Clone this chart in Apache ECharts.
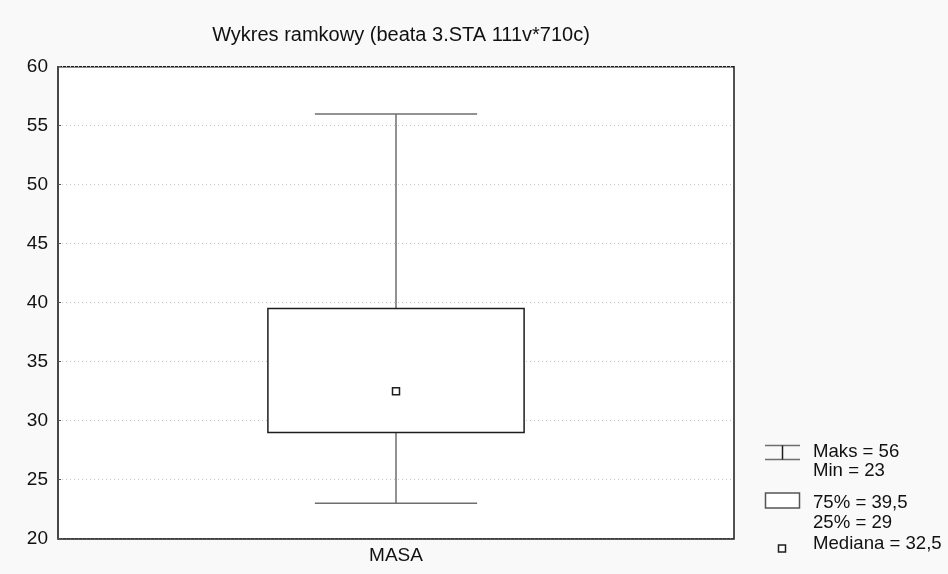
<!DOCTYPE html>
<html><head><meta charset="utf-8">
<script src="https://cdn.jsdelivr.net/npm/echarts@6/dist/echarts.min.js"></script>
<style>html,body{margin:0;padding:0;background:#f9f9f9}#c{width:948px;height:574px}</style>
</head><body><div id="c"></div>
<script>
const chartTitle = 'Wykres ramkowy (beata 3.STA 111v*710c)';
const categories = ['MASA'];
const minVals = [23];
const q1Vals = [29];
const medianVals = [32.5];
const q3Vals = [39.5];
const maxVals = [56];
const yMin = 20, yMax = 60, yStep = 5;

const fmt = v => String(v).replace('.', ',');
const FONT = 'Liberation Sans, Arial, sans-serif';
const FS = 19;
const LFS = 18.6;

const chart = echarts.init(document.getElementById('c'));
const data = categories.map((c, i) => [i, minVals[i], q1Vals[i], medianVals[i], q3Vals[i], maxVals[i]]);

function renderItem(params, api) {
  const idx = api.value(0);
  const band = api.size([1, 0])[0];
  const pMin = api.coord([idx, api.value(1)]);
  const pQ1 = api.coord([idx, api.value(2)]);
  const pMed = api.coord([idx, api.value(3)]);
  const pQ3 = api.coord([idx, api.value(4)]);
  const pMax = api.coord([idx, api.value(5)]);
  const cx = pMed[0];
  const bw = band * 0.1895;
  const cw = band * 0.12;
  const wStyle = { stroke: '#6e6e6e', lineWidth: 1.5 };
  return {
    type: 'group',
    children: [
      { type: 'line', shape: { x1: cx, y1: pMax[1], x2: cx, y2: pQ3[1] }, style: wStyle },
      { type: 'line', shape: { x1: cx, y1: pQ1[1], x2: cx, y2: pMin[1] }, style: wStyle },
      { type: 'line', shape: { x1: cx - cw, y1: pMax[1], x2: cx + cw, y2: pMax[1] }, style: wStyle },
      { type: 'line', shape: { x1: cx - cw, y1: pMin[1], x2: cx + cw, y2: pMin[1] }, style: wStyle },
      { type: 'rect', shape: { x: cx - bw, y: pQ3[1], width: 2 * bw, height: pQ1[1] - pQ3[1] },
        style: { fill: '#fff', stroke: '#1e1e1e', lineWidth: 1.5 } },
      { type: 'rect', shape: { x: cx - 3.5, y: pMed[1] - 3.5, width: 7, height: 7 },
        style: { fill: '#fff', stroke: '#1e1e1e', lineWidth: 1.5 } }
    ]
  };
}

const legendX = 813;
const txt = (t, y) => ({ type: 'text', left: legendX, top: y - LFS / 2 - 1,
  style: { text: t, font: LFS + 'px ' + FONT, fill: '#111' } });

chart.setOption({
  backgroundColor: '#f9f9f9',
  animation: false,
  title: {
    text: chartTitle, left: 396, top: 20, textAlign: 'center',
    textStyle: { fontFamily: FONT, fontSize: 20, fontWeight: 'normal', color: '#111' }
  },
  grid: { left: 58, right: 214, top: 66.7, bottom: 35.3, show: true,
    backgroundColor: '#fff', borderColor: '#1a1a1a', borderWidth: 1.5 },
  xAxis: {
    type: 'category', data: categories,
    axisLine: { lineStyle: { color: '#444', width: 1.5 } },
    axisTick: { show: false },
    axisLabel: { fontFamily: FONT, fontSize: FS, color: '#111', margin: 8 }
  },
  yAxis: {
    type: 'value', min: yMin, max: yMax, interval: yStep,
    axisLine: { show: true, lineStyle: { color: '#444', width: 1.5 } },
    axisTick: { show: true, inside: true, length: 3, lineStyle: { color: '#555' } },
    axisLabel: { fontFamily: FONT, fontSize: FS, color: '#111', margin: 10 },
    splitLine: { show: true, lineStyle: { color: '#c8c8c8', type: [1, 3], width: 1 } }
  },
  series: [{ type: 'custom', renderItem: renderItem, data: data, encode: { x: 0, y: [1, 2, 3, 4, 5] }, clip: false }],
  graphic: [
    { type: 'line', shape: { x1: 765, y1: 445.5, x2: 800, y2: 445.5 }, style: { stroke: '#6e6e6e', lineWidth: 1.5 } },
    { type: 'line', shape: { x1: 765, y1: 459.5, x2: 800, y2: 459.5 }, style: { stroke: '#6e6e6e', lineWidth: 1.5 } },
    { type: 'line', shape: { x1: 782.5, y1: 445.5, x2: 782.5, y2: 459.5 }, style: { stroke: '#1e1e1e', lineWidth: 1.5 } },
    { type: 'rect', shape: { x: 765.5, y: 493, width: 34, height: 15 }, style: { fill: '#fff', stroke: '#555', lineWidth: 1.5 } },
    { type: 'rect', shape: { x: 778.5, y: 545, width: 7, height: 7 }, style: { fill: '#fff', stroke: '#1e1e1e', lineWidth: 1.5 } },
    txt('Maks = ' + fmt(maxVals[0]), 453),
    txt('Min = ' + fmt(minVals[0]), 472),
    txt('75% = ' + fmt(q3Vals[0]), 504),
    txt('25% = ' + fmt(q1Vals[0]), 524),
    txt('Mediana = ' + fmt(medianVals[0]), 545)
  ]
});
</script></body></html>
